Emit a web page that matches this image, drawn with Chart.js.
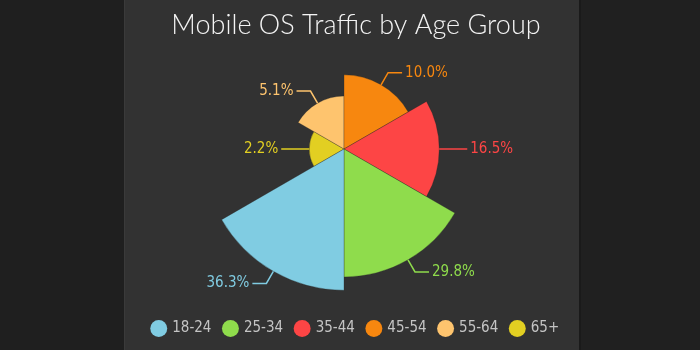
<!DOCTYPE html>
<html>
<head>
<meta charset="utf-8">
<title>Mobile OS Traffic by Age Group</title>
<script src="https://cdn.jsdelivr.net/npm/chart.js@4/dist/chart.umd.min.js"></script>
<style>
  html, body { margin: 0; padding: 0; }
  body {
    width: 700px;
    height: 350px;
    overflow: hidden;
    background: linear-gradient(to right,
      #1f1f1f 0, #1f1f1f 124px,
      #3a3a3a 124px, #3a3a3a 125px,
      #323232 125px, #323232 579px,
      #1a1a1a 579px, #1a1a1a 581px,
      #202020 581px, #202020 700px);
  }
  #wrap { position: relative; width: 700px; height: 350px; }
</style>
</head>
<body>
<div id="wrap"><canvas id="chart"></canvas></div>
<script>
// Share of mobile OS traffic per age group (percent)
const ageGroups = ['18-24', '25-34', '35-44', '45-54', '55-64', '65+'];
const trafficShare = [36.3, 29.8, 16.5, 10.0, 5.1, 2.2];
const groupColors = ['#80cce2', '#8fdc4c', '#fd4545', '#f7870f', '#fec46e', '#e2cf22'];

// Wedges run clockwise from the 65+ group, so feed the chart the reversed order
const chartLabels = ageGroups.slice().reverse();
const chartValues = trafficShare.slice().reverse();
const chartColors = groupColors.slice().reverse();

// Radial scale whose radius grows with the square root of the value,
// so each wedge's area is proportional to its share.
class SqrtRadialScale extends Chart.RadialLinearScale {
  static id = 'radialSqrt';
  getDistanceFromCenterForValue(value) {
    if (value === null || value === undefined || isNaN(value)) return NaN;
    const t = Math.max(0, (value - this.min) / (this.max - this.min));
    return this.drawingArea * Math.sqrt(t);
  }
  setCenterPoint(l, r, t, b) {
    super.setCenterPoint(l, r, t, b);
    const shift = this.options.centerShift || { x: 0, y: 0 };
    this.xCenter += shift.x;
    this.yCenter += shift.y;
  }
}
Chart.register(SqrtRadialScale);

// Percent labels with elbow leader lines outside each wedge
const sliceLabels = {
  id: 'sliceLabels',
  afterDatasetsDraw(chart, args, opts) {
    const { ctx } = chart;
    const ds = chart.data.datasets[0];
    const meta = chart.getDatasetMeta(0);
    ctx.save();
    ctx.font = opts.font;
    ctx.lineWidth = opts.lineWidth;
    meta.data.forEach((arc, i) => {
      const { x, y, startAngle, endAngle, outerRadius } =
        arc.getProps(['x', 'y', 'startAngle', 'endAngle', 'outerRadius'], true);
      const mid = (startAngle + endAngle) / 2;
      const cos = Math.cos(mid), sin = Math.sin(mid);
      const x0 = x + cos * outerRadius, y0 = y + sin * outerRadius;
      const x1 = x + cos * (outerRadius + opts.radial);
      const y1 = y + sin * (outerRadius + opts.radial);
      const dir = cos >= 0 ? 1 : -1;
      const x2 = x1 + dir * opts.run;
      const color = ds.backgroundColor[i];
      ctx.strokeStyle = color;
      ctx.fillStyle = color;
      ctx.beginPath();
      ctx.moveTo(x0, y0);
      ctx.lineTo(x1, y1);
      ctx.lineTo(x2, y1);
      ctx.stroke();
      ctx.textAlign = dir > 0 ? 'left' : 'right';
      ctx.textBaseline = 'middle';
      ctx.fillText(ds.data[i].toFixed(1) + '%', x2 + dir * opts.gap, y1);
    });
    ctx.restore();
  }
};

const narrowFont = "'DejaVu Sans Condensed', 'DejaVu Sans', sans-serif";

new Chart(document.getElementById('chart'), {
  type: 'polarArea',
  data: {
    labels: chartLabels,
    datasets: [{
      data: chartValues,
      backgroundColor: chartColors,
      borderColor: 'rgba(40,40,40,0.3)',
      borderWidth: 1,
      clip: false
    }]
  },
  options: {
    responsive: true,
    maintainAspectRatio: false,
    animation: false,
    layout: { padding: { left: 12, right: 0, top: 0, bottom: 4 } },
    scales: {
      r: {
        type: 'radialSqrt',
        display: false,
        min: 0,
        max: 29.8,
        startAngle: 240,
        centerShift: { x: -12, y: -30 }
      }
    },
    plugins: {
      title: {
        display: true,
        text: 'Mobile OS Traffic by Age Group',
        color: '#f4f4f4',
        font: { family: "Lato, 'Open Sans', sans-serif", weight: 300, size: 27 },
        padding: { top: 9, bottom: 10 }
      },
      legend: {
        position: 'bottom',
        reverse: true,
        labels: {
          usePointStyle: true,
          pointStyle: 'circle',
          boxWidth: 12,
          boxHeight: 12,
          padding: 13,
          color: '#c4c4c4',
          font: { family: narrowFont, size: 15 },
          generateLabels(chart) {
            const base = Chart.PolarAreaController.overrides.plugins.legend.labels.generateLabels;
            return base(chart).map(item => Object.assign(item, { lineWidth: 0, strokeStyle: 'rgba(0,0,0,0)' }));
          }
        }
      },
      tooltip: { enabled: false },
      sliceLabels: {
        font: "15px " + narrowFont,
        lineWidth: 1.5,
        radial: 14,
        run: 14,
        gap: 3
      }
    }
  },
  plugins: [sliceLabels]
});
</script>
</body>
</html>
